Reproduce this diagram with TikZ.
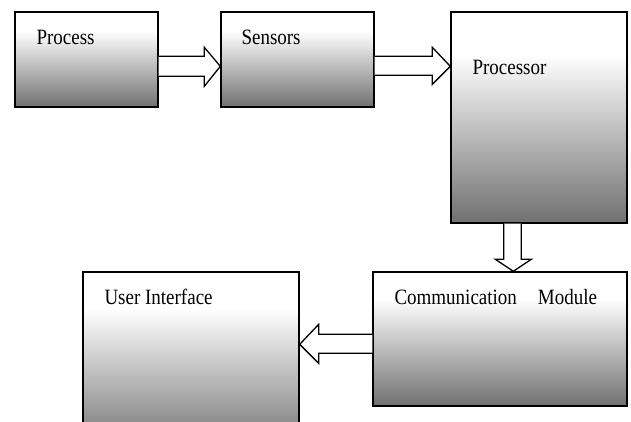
\documentclass[tikz,border=0pt]{standalone}
\usepackage{fontspec}
\setmainfont{Liberation Serif}
\usetikzlibrary{calc}
\definecolor{boxbot}{RGB}{112,112,112}
\pgfdeclareverticalshading{boxshade}{100bp}{color(0bp)=(boxbot); color(25bp)=(boxbot); color(65bp)=(white); color(100bp)=(white)}
\newcommand\stretchtxt[1]{\scalebox{1}[1.15]{#1}}
\tikzset{
  blk/.style={draw=black, line width=1.4pt, shading=boxshade, inner sep=0pt, rectangle},
  lbl/.style={anchor=base west, inner sep=0pt, font=\fontsize{19}{22}\selectfont},
  blockarrow/.style={draw=black, fill=white, line width=1.3pt, line join=miter}
}
\begin{document}
\begin{tikzpicture}[x=1pt,y=-1pt]
\useasboundingbox (0,0) rectangle (631,421);
\clip (0,0) rectangle (631,421);
\fill[white] (0,0) rectangle (631,421);
% boxes
\node[blk, minimum width=143pt, minimum height=95pt] (proc) at (86.5,59.5) {};
\node[blk, minimum width=153pt, minimum height=95pt] (sens) at (297.5,59.5) {};
\node[blk, minimum width=176pt, minimum height=211pt] (cpu) at (539,117.5) {};
\node[blk, minimum width=254pt, minimum height=134pt] (comm) at (500,339) {};
\node[blk, minimum width=216pt, minimum height=180pt] (ui) at (191,362) {};
% labels
\node[lbl] (tproc) at ($(proc.north west)+(22,33)$) {\stretchtxt{Process}};
\node[lbl] (tsens) at ($(sens.north west)+(21,33)$) {\stretchtxt{Sensors}};
\node[lbl] (tcpu) at ($(cpu.north west)+(22,63)$) {\stretchtxt{Processor}};
\node[lbl] (tcomm) at ($(comm.north west)+(22,33)$) {\stretchtxt{Communication\hspace*{21pt}Module}};
\node[lbl] (tui) at ($(ui.north west)+(22,33.5)$) {\stretchtxt{User Interface}};
% arrows
\draw[blockarrow] ($(proc.north east)+(0,45)$) -- ($(sens.north west)+(-16,45)$) -- ($(sens.north west)+(-16,36)$) -- ($(sens.north west)+(0,55)$) -- ($(sens.north west)+(-16,75)$) -- ($(sens.north west)+(-16,65)$) -- ($(proc.north east)+(0,65)$);
\draw[blockarrow] ($(sens.north east)+(0,45)$) -- ($(cpu.north west)+(-18,45)$) -- ($(cpu.north west)+(-18,36)$) -- ($(cpu.north west)+(0,55)$) -- ($(cpu.north west)+(-18,73)$) -- ($(cpu.north west)+(-18,64)$) -- ($(sens.north east)+(0,64)$);
\draw[blockarrow] ($(cpu.south west)+(53.5,0)$) -- ($(comm.north west)+(131.5,-12)$) -- ($(comm.north west)+(123,-12)$) -- ($(comm.north west)+(141,0)$) -- ($(comm.north west)+(159,-12)$) -- ($(comm.north west)+(149,-12)$) -- ($(cpu.south west)+(71,0)$);
\draw[blockarrow] ($(comm.north west)+(0,63)$) -- ($(ui.north east)+(19,63)$) -- ($(ui.north east)+(19,53)$) -- ($(ui.north east)+(0,73)$) -- ($(ui.north east)+(19,92)$) -- ($(ui.north east)+(19,82)$) -- ($(comm.north west)+(0,82)$);
\end{tikzpicture}
\end{document}
